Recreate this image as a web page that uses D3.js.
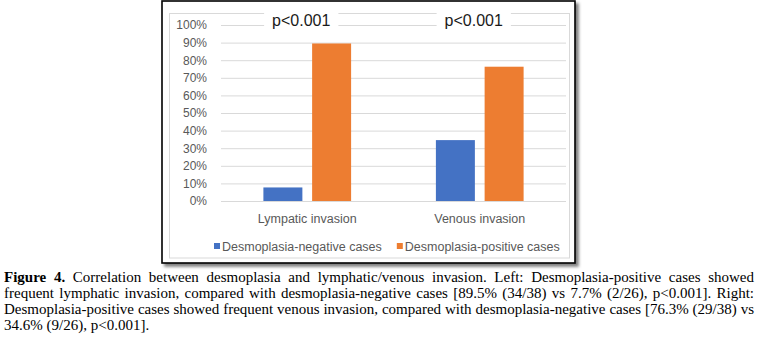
<!DOCTYPE html>
<html><head><meta charset="utf-8">
<script src="https://cdn.jsdelivr.net/npm/d3@7"></script>
<style>body{margin:0;background:#fff} svg{display:block}</style>
</head><body><svg id="c" width="759" height="343"></svg>
<script>
const categories = ["Lympatic invasion", "Venous invasion"];
const seriesNames = ["Desmoplasia-negative cases", "Desmoplasia-positive cases"];
const negativeValues = [0.077, 0.346];
const positiveValues = [0.895, 0.763];
const pLabels = ["p<0.001", "p<0.001"];
const yTicks = [0, 0.1, 0.2, 0.3, 0.4, 0.5, 0.6, 0.7, 0.8, 0.9, 1.0];
const colors = ["#4472C4", "#ED7D31"];
const captionLines = [
  "Figure 4. Correlation between desmoplasia and lymphatic/venous invasion. Left: Desmoplasia-positive cases showed",
  "frequent lymphatic invasion, compared with desmoplasia-negative cases [89.5% (34/38) vs 7.7% (2/26), p<0.001]. Right:",
  "Desmoplasia-positive cases showed frequent venous invasion, compared with desmoplasia-negative cases [76.3% (29/38) vs",
  "34.6% (9/26), p<0.001]."
];

const svg = d3.select("#c");
const sans = "'Liberation Sans', Arial, sans-serif";
const serif = "'Liberation Serif', 'Times New Roman', serif";

// drop shadow
const defs = svg.append("defs");
const f = defs.append("filter").attr("id", "sh").attr("x", "-5%").attr("y", "-5%").attr("width", "115%").attr("height", "115%");
f.append("feDropShadow").attr("dx", 3).attr("dy", 3).attr("stdDeviation", 1.5)
  .attr("flood-color", "#000").attr("flood-opacity", 0.5);

// outer frame
svg.append("rect").attr("x", 162).attr("y", 1).attr("width", 413).attr("height", 262)
  .attr("fill", "#fff").attr("stroke", "#000").attr("stroke-width", 1.6).attr("filter", "url(#sh)");
// chart area border
svg.append("rect").attr("x", 169.5).attr("y", 13.5).attr("width", 400).attr("height", 244.5)
  .attr("fill", "#fff").attr("stroke", "#D9D9D9").attr("stroke-width", 1);

const plot = {left: 221, right: 566, top: 25, bottom: 201};
const x0 = d3.scaleBand().domain(categories).range([plot.left, plot.right]);
const x1 = d3.scaleBand().domain(seriesNames).range([0, x0.bandwidth()]).paddingInner(0.2).paddingOuter(0.87);
const y = d3.scaleLinear().domain([0, 1]).range([plot.bottom, plot.top]);

// gridlines + y labels
const yAxis = d3.axisLeft(y).tickValues(yTicks).tickFormat(d3.format(".0%"))
  .tickSize(-(plot.right - plot.left)).tickPadding(14);
const gy = svg.append("g").attr("transform", `translate(${plot.left},0)`).call(yAxis);
gy.select(".domain").remove();
gy.selectAll(".tick line").attr("stroke", "#D9D9D9").attr("stroke-width", 1);
gy.selectAll(".tick text").attr("fill", "#595959").style("font-family", sans).style("font-size", "12px");

// bars
const data = categories.map((c, i) => ({cat: c, vals: [negativeValues[i], positiveValues[i]]}));
const groups = svg.append("g").selectAll("g").data(data).join("g")
  .attr("transform", d => `translate(${x0(d.cat)},0)`);
groups.selectAll("rect").data(d => d.vals.map((v, j) => ({s: seriesNames[j], v, j})))
  .join("rect")
  .attr("x", d => x1(d.s)).attr("width", x1.bandwidth())
  .attr("y", d => y(d.v)).attr("height", d => y(0) - y(d.v))
  .attr("fill", d => colors[d.j]);

// category axis labels
const xAxis = d3.axisBottom(x0).tickSize(0).tickPadding(13);
const gx = svg.append("g").attr("transform", `translate(0,${plot.bottom})`).call(xAxis);
gx.select(".domain").remove();
gx.selectAll(".tick text").attr("fill", "#595959").style("font-family", sans).style("font-size", "12.5px");

// p-value labels with white boxes
categories.forEach((c, i) => {
  const cx = x0(c) + x0.bandwidth() / 2 - 6;
  const g = svg.append("g");
  const t = g.append("text").attr("x", cx).attr("y", 26).attr("text-anchor", "middle")
    .attr("fill", "#1a1a1a").style("font-family", sans).style("font-size", "16px").text(pLabels[i]);
  const w = t.node().getComputedTextLength();
  g.insert("rect", "text").attr("x", cx - w / 2 - 8).attr("y", 9).attr("width", w + 16).attr("height", 22).attr("fill", "#fff");
});

// legend
const leg = svg.append("g");
let lx = 214;
seriesNames.forEach((s, j) => {
  leg.append("rect").attr("x", lx).attr("y", 243).attr("width", 6).attr("height", 6).attr("fill", colors[j]);
  const t = leg.append("text").attr("x", lx + 8).attr("y", 250.5).attr("fill", "#595959")
    .style("font-family", sans).style("font-size", "12.5px").text(s);
  lx = lx + 8 + t.node().getComputedTextLength() + 15;
});

// caption, justified
const capLeft = 4, capRight = 754;
captionLines.forEach((line, li) => {
  const words = line.split(" ");
  const yb = 282 + li * 16;
  const nodes = words.map((w, wi) => {
    const bold = li === 0 && wi < 2;
    return svg.append("text").attr("y", yb).attr("fill", "#000")
      .style("font-family", serif).style("font-size", "15px")
      .style("font-weight", bold ? "bold" : "normal").text(w);
  });
  const widths = nodes.map(n => n.node().getComputedTextLength());
  const total = d3.sum(widths);
  const last = li === captionLines.length - 1;
  const gap = last ? 3.75 : (capRight - capLeft - total) / (words.length - 1);
  let x = capLeft;
  nodes.forEach((n, k) => { n.attr("x", x); x += widths[k] + gap; });
});
</script>
</body></html>
